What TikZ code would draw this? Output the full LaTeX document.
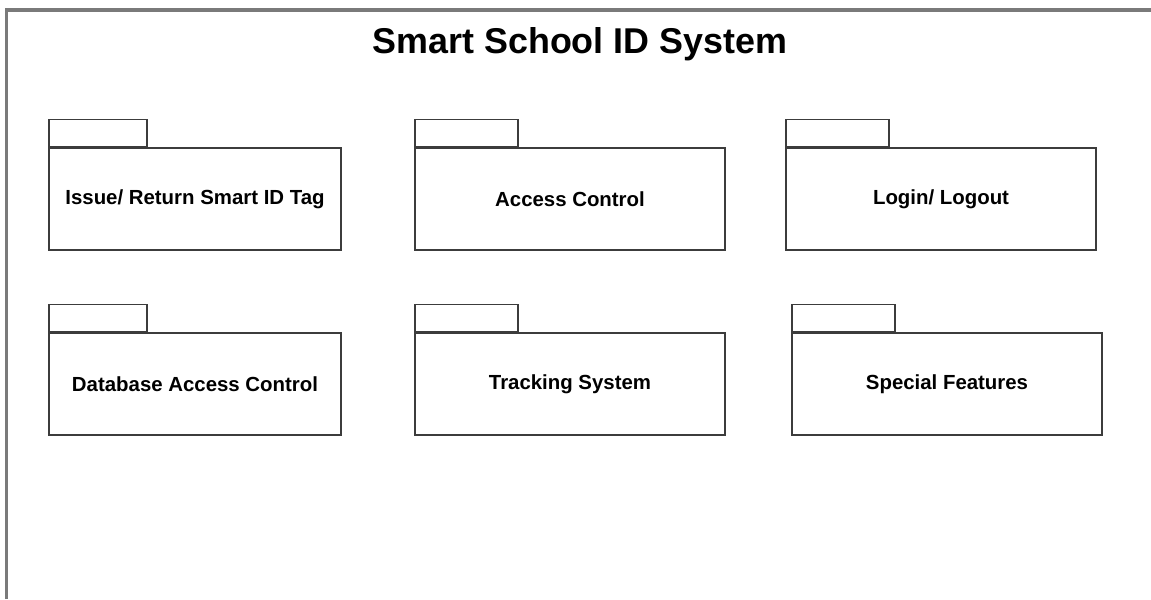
\documentclass[tikz,border=0pt]{standalone}
\usepackage{fontspec}
\setmainfont{Liberation Sans}
\usetikzlibrary{positioning}

\definecolor{framegray}{RGB}{122,122,122}
\definecolor{pkgline}{RGB}{60,60,60}

\tikzset{
	pkgbody/.style={draw=pkgline, line width=1.2pt, fill=white, inner sep=0pt,
		minimum height=76.5pt, minimum width=#1, font=\bfseries\fontsize{15.3}{18}\selectfont},
	pkgbody/.default=232.5pt,
	pkgtab/.style={draw=pkgline, line width=1.2pt, fill=white, inner sep=0pt,
		minimum height=20.25pt, minimum width=#1, anchor=south west},
	pkgtab/.default=77.25pt
}

\begin{document}
\begin{tikzpicture}[x=0.75pt,y=0.75pt,yscale=-1,xscale=1]
	\useasboundingbox (0,0) rectangle (1151,599);

	%Frame
	\draw [color=framegray, line width=2.4pt] (6.7,599) -- (6.7,10) -- (1151,10) ;

	% Text Node
	\node (title) at (580,44) {\bfseries\fontsize{26.9}{30}\selectfont Smart School ID System};

	%Packages, first row
	\node [pkgbody=219pt] (issue) at (195,199) {Issue/ Return Smart ID Tag};
	\node [pkgtab=73.5pt] (issueTab) at (issue.north west) {};
	\node [pkgbody] (access) at (570,199) {Access Control};
	\node [pkgtab] (accessTab) at (access.north west) {};
	\node [pkgbody] (login) at (941,199) {Login/ Logout};
	\node [pkgtab] (loginTab) at (login.north west) {};

	%Packages, second row
	\node [pkgbody=219pt] (database) at (195,384) {Database Access Control};
	\node [pkgtab=73.5pt] (databaseTab) at (database.north west) {};
	\node [pkgbody] (tracking) at (570,384) {Tracking System};
	\node [pkgtab] (trackingTab) at (tracking.north west) {};
	\node [pkgbody] (special) at (947,384) {Special Features};
	\node [pkgtab] (specialTab) at (special.north west) {};
\end{tikzpicture}
\end{document}
